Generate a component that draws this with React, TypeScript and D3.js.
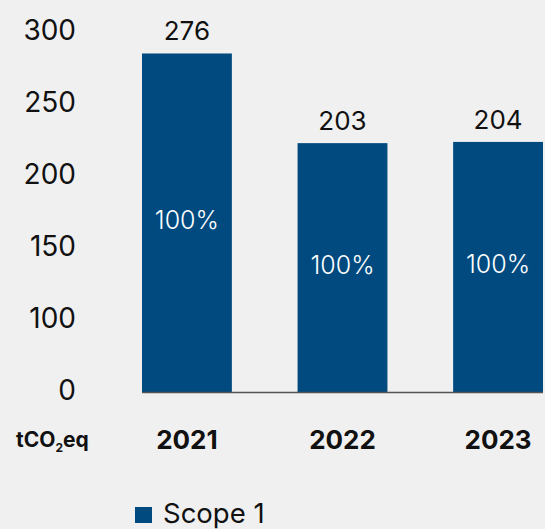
import React from 'react'
import * as d3 from 'd3'

const years = ['2021', '2022', '2023']
const scope1 = [276, 203, 204]
const shareLabels = ['100%', '100%', '100%']
const yTickLabels = ['300', '250', '200', '150', '100', '0']
const seriesName = 'Scope 1'

const W = 545
const H = 529
const blue = '#004a80'
const font = 'Inter, "Noto Sans", sans-serif'

export default function App() {
  // bars are proportional to zero, the tick labels are just evenly spaced
  const x = d3.scaleBand().domain(years).range([142, 543]).paddingInner(0.4224).paddingOuter(0)
  const y = d3.scaleLinear().domain([0, 300]).range([392.5, 24])
  const tickY = d3.scalePoint().domain(yTickLabels).range([39.5, 400])

  return (
    <svg width={W} height={H} style={{ position: 'absolute', left: 0, top: 0 }}>
      <rect width={W} height={H} fill="#f0f0f0" />
      {yTickLabels.map(t => (
        <text key={t} x={76} y={tickY(t)} textAnchor="end"
          fontFamily={font} fontSize={28} fill="#111">{t}</text>
      ))}
      {years.map((yr, i) => {
        const bx = x(yr) as number
        const cx = bx + x.bandwidth() / 2
        const top = y(scope1[i])
        const base = y(0)
        return (
          <g key={yr}>
            <rect x={bx} y={top} width={x.bandwidth()} height={base - top} fill={blue} />
            <text x={cx} y={top - 13} textAnchor="middle"
              fontFamily={font} fontSize={26} fill="#111">{scope1[i]}</text>
            <text x={cx} y={(top + base) / 2 + 6} textAnchor="middle"
              fontFamily={font} fontSize={25} fontWeight={300} fill="#fff">{shareLabels[i]}</text>
            <text x={cx} y={449} textAnchor="middle"
              fontFamily={font} fontSize={26} fontWeight={700} fill="#111">{yr}</text>
          </g>
        )
      })}
      <line x1={142} x2={543} y1={y(0)} y2={y(0)} stroke="#555" strokeWidth={1.5} />
      <text x={16} y={447} fontFamily={font} fontSize={21} fontWeight={700} fill="#111">
        tCO<tspan fontSize={12} dy={5}>2</tspan><tspan dy={-5}>eq</tspan>
      </text>
      <rect x={135} y={507} width={17} height={16} fill={blue} />
      <text x={163} y={523} fontFamily={font} fontSize={27.5} fill="#111">{seriesName}</text>
    </svg>
  )
}
